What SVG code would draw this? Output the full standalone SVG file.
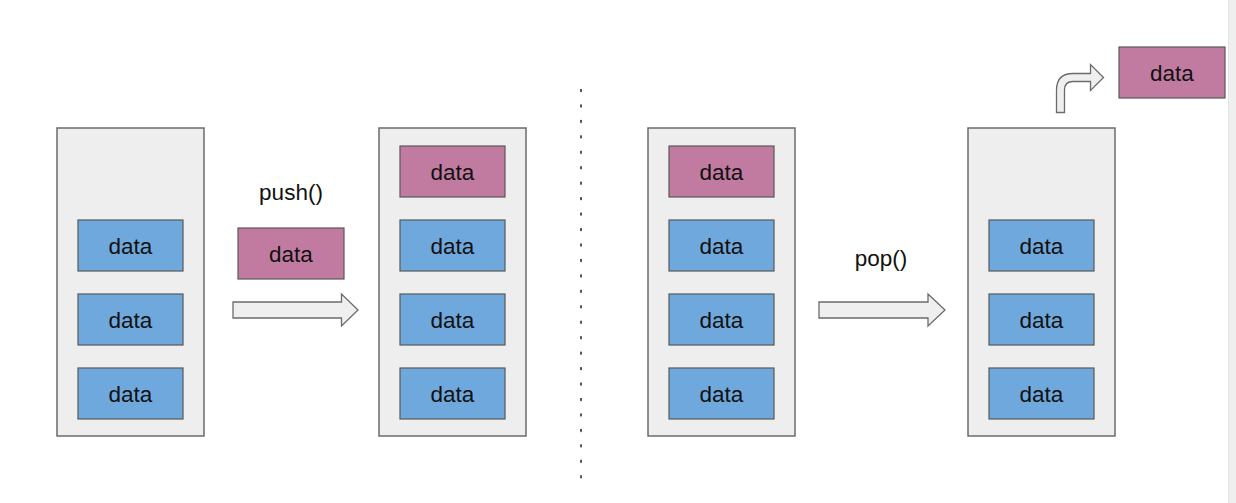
<svg xmlns="http://www.w3.org/2000/svg" width="1236" height="503" viewBox="0 0 1236 503">
<style>
.stack{fill:#eeeeee;stroke:#6b6b6b;stroke-width:1.5}
.blue{fill:#6fa8dc;stroke:#595959;stroke-width:1.2}
.pink{fill:#c27ba0;stroke:#595959;stroke-width:1.2}
.arrow{fill:#efefef;stroke:#6b6b6b;stroke-width:1.3;stroke-linejoin:miter}
text{font-family:"Liberation Sans",Arial,sans-serif;font-size:22.5px;fill:#111;text-anchor:middle}
</style>
<defs>
<pattern id="dots" x="0" y="89" width="4" height="15.45" patternUnits="userSpaceOnUse">
<rect x="0" y="0" width="3" height="3" fill="#555"/>
</pattern>
</defs>
<rect width="1236" height="503" fill="#ffffff"/>
<rect x="1229" y="0" width="7" height="503" fill="#efefef"/>
<line x1="1228.5" y1="0" x2="1228.5" y2="503" stroke="#e4e4e4" stroke-width="1"/>

<g id="divider">
<rect x="579" y="89" width="3" height="390" fill="url(#dots)"/>
</g>

<g id="stack1">
<rect class="stack" x="57" y="128" width="147" height="308"/>
<rect class="blue" x="78" y="220" width="105" height="51"/><text x="130.5" y="254">data</text>
<rect class="blue" x="78" y="294" width="105" height="51"/><text x="130.5" y="328">data</text>
<rect class="blue" x="78" y="368" width="105" height="51"/><text x="130.5" y="402">data</text>
</g>

<g id="push-item">
<text x="291" y="200">push()</text>
<rect class="pink" x="238" y="228" width="106" height="51"/><text x="291" y="262">data</text>
</g>

<g id="stack2">
<rect class="stack" x="379" y="128" width="147" height="308"/>
<rect class="pink" x="400" y="146" width="105" height="51"/><text x="452.5" y="180">data</text>
<rect class="blue" x="400" y="220" width="105" height="51"/><text x="452.5" y="254">data</text>
<rect class="blue" x="400" y="294" width="105" height="51"/><text x="452.5" y="328">data</text>
<rect class="blue" x="400" y="368" width="105" height="51"/><text x="452.5" y="402">data</text>
</g>

<g id="stack3">
<rect class="stack" x="648" y="128" width="147" height="308"/>
<rect class="pink" x="669" y="146" width="105" height="51"/><text x="721.5" y="180">data</text>
<rect class="blue" x="669" y="220" width="105" height="51"/><text x="721.5" y="254">data</text>
<rect class="blue" x="669" y="294" width="105" height="51"/><text x="721.5" y="328">data</text>
<rect class="blue" x="669" y="368" width="105" height="51"/><text x="721.5" y="402">data</text>
</g>

<g id="pop-label">
<text x="881" y="266">pop()</text>
</g>

<g id="stack4">
<rect class="stack" x="968" y="128" width="147" height="308"/>
<rect class="blue" x="989" y="220" width="105" height="51"/><text x="1041.5" y="254">data</text>
<rect class="blue" x="989" y="294" width="105" height="51"/><text x="1041.5" y="328">data</text>
<rect class="blue" x="989" y="368" width="105" height="51"/><text x="1041.5" y="402">data</text>
</g>

<g id="popped-item">
<rect class="pink" x="1119" y="47" width="106" height="51"/><text x="1172" y="81">data</text>
</g>

<g id="connectors">
<path class="arrow" d="M233,302 L341.5,302 L341.5,294 L358,310 L341.5,326 L341.5,318 L233,318 Z"/>
<path class="arrow" d="M819,302 L928,302 L928,294 L945,310 L928,326 L928,318 L819,318 Z"/>
<path class="arrow" d="M1056.5,112.5 L1056.5,90 Q1056.5,73.5 1073,73.5 L1090.5,73.5 L1090.5,64.5 L1103.5,77.5 L1090.5,90.5 L1090.5,81.5 L1073,81.5 Q1064.5,81.5 1064.5,90 L1064.5,112.5 Z"/>
</g>
</svg>
